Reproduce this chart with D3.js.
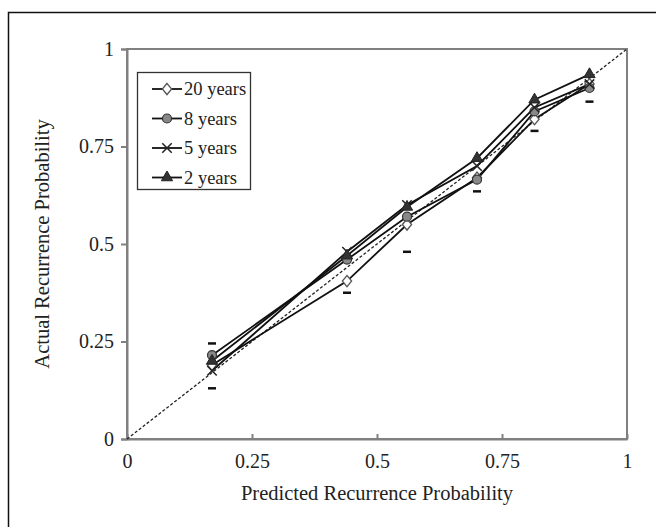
<!DOCTYPE html>
<html>
<head>
<meta charset="utf-8">
<script src="https://cdn.jsdelivr.net/npm/d3@7"></script>
<style>
  body { margin: 0; background: #fff; }
  text { font-family: "Liberation Serif", "Times New Roman", serif; fill: #222; }
</style>
</head>
<body>
<div id="chart"></div>
<script>
// calibration plot: predicted vs actual recurrence probability

// data
const predicted = [0.17, 0.44, 0.56, 0.70, 0.815, 0.925];
const seriesNames = ["20 years", "8 years", "5 years", "2 years"];
const yrs20 = [0.19, 0.405, 0.55, 0.67, 0.82, 0.91];
const yrs8 = [0.215, 0.46, 0.57, 0.665, 0.84, 0.90];
const yrs5 = [0.175, 0.48, 0.60, 0.70, 0.85, 0.91];
const yrs2 = [0.20, 0.47, 0.595, 0.72, 0.87, 0.935];
// small dash marks (confidence limits)
const dashX = [0.17, 0.17, 0.44, 0.56, 0.70, 0.815, 0.925, 0.925];
const dashY = [0.245, 0.13, 0.375, 0.48, 0.635, 0.79, 0.865, 0.90];
const ticks = [0, 0.25, 0.5, 0.75, 1];
const tickLabels = ["0", "0.25", "0.5", "0.75", "1"];

const width = 656, height = 527;
const margin = {top: 49, right: 30, bottom: 88, left: 127};

const svg = d3.select("#chart")
    .append("svg")
    .attr("width", width)
    .attr("height", height);

// outer border (cropped at right / bottom)
svg.append("rect")
    .attr("x", 8.5).attr("y", 12.5)
    .attr("width", 700).attr("height", 600)
    .attr("fill", "none")
    .attr("stroke", "#111")
    .attr("stroke-width", 1.5);

const x = d3.scaleLinear().domain([0, 1]).range([margin.left, width - margin.right + 1]);
const y = d3.scaleLinear().domain([0, 1]).range([height - margin.bottom, margin.top]);

// plot frame
svg.append("rect")
    .attr("x", x(0)).attr("y", y(1))
    .attr("width", x(1) - x(0)).attr("height", y(0) - y(1))
    .attr("fill", "none")
    .attr("stroke", "#808080")
    .attr("stroke-width", 2);

// axes
const xAxis = svg.append("g")
    .attr("transform", `translate(0,${y(0)})`)
    .call(d3.axisBottom(x).tickValues(ticks).tickFormat((d, i) => tickLabels[i]).tickSize(0).tickPadding(15));
xAxis.select(".domain").attr("stroke", "#808080").attr("stroke-width", 2);
xAxis.selectAll(".tick").append("line")
    .attr("y1", -5).attr("y2", 0)
    .attr("stroke", "#808080").attr("stroke-width", 2);
xAxis.selectAll("text").style("font-size", "20px").style("font-family", "Liberation Serif");

const yAxis = svg.append("g")
    .attr("transform", `translate(${x(0)},0)`)
    .call(d3.axisLeft(y).tickValues(ticks).tickFormat((d, i) => tickLabels[i]).tickSize(6).tickPadding(7));
yAxis.select(".domain").attr("stroke", "#808080").attr("stroke-width", 2);
yAxis.selectAll(".tick line").attr("stroke", "#808080").attr("stroke-width", 2);
yAxis.selectAll("text").style("font-size", "20px").style("font-family", "Liberation Serif");

// axis titles
svg.append("text")
    .attr("x", (x(0) + x(1)) / 2)
    .attr("y", 500)
    .attr("text-anchor", "middle")
    .style("font-size", "20.5px")
    .text("Predicted Recurrence Probability");

svg.append("text")
    .attr("transform", `translate(49,${(y(0) + y(1)) / 2}) rotate(-90)`)
    .attr("text-anchor", "middle")
    .style("font-size", "20.5px")
    .text("Actual Recurrence Probability");

// diagonal reference line
svg.append("line")
    .attr("x1", x(0)).attr("y1", y(0))
    .attr("x2", x(1)).attr("y2", y(1))
    .attr("stroke", "#222")
    .attr("stroke-width", 1.3)
    .attr("stroke-dasharray", "3,2");

// dash marks
svg.selectAll(".dash")
    .data(dashX)
    .join("line")
    .attr("x1", (d) => x(d) - 4)
    .attr("x2", (d) => x(d) + 4)
    .attr("y1", (d, i) => y(dashY[i]))
    .attr("y2", (d, i) => y(dashY[i]))
    .attr("stroke", "#111")
    .attr("stroke-width", 2.5);

const allSeries = [yrs20, yrs8, yrs5, yrs2];
const line = d3.line().x((d, i) => x(predicted[i])).y((d) => y(d));

// marker drawer
function marker(g, k, cx, cy) {
    if (k === 0) {
        g.append("path")
            .attr("d", d3.symbol(d3.symbolDiamond, 40)())
            .attr("transform", `translate(${cx},${cy}) scale(1.35,0.95)`)
            .attr("fill", "#fff").attr("stroke", "#555").attr("stroke-width", 1.1);
    } else if (k === 1) {
        g.append("circle")
            .attr("cx", cx).attr("cy", cy).attr("r", 4.5)
            .attr("fill", "#888").attr("stroke", "#333").attr("stroke-width", 1.2);
    } else if (k === 2) {
        g.append("path")
            .attr("d", d3.symbol(d3.symbolTimes, 60)())
            .attr("transform", `translate(${cx},${cy})`)
            .attr("fill", "none").attr("stroke", "#222").attr("stroke-width", 1.5);
    } else {
        g.append("path")
            .attr("d", d3.symbol(d3.symbolTriangle, 55)())
            .attr("transform", `translate(${cx},${cy})`)
            .attr("fill", "#333").attr("stroke", "#222").attr("stroke-width", 1);
    }
}

allSeries.forEach(function(vals) {
    svg.append("path")
        .datum(vals)
        .attr("d", line)
        .attr("fill", "none")
        .attr("stroke", "#111")
        .attr("stroke-width", 1.8);
});
allSeries.forEach(function(vals, k) {
    const g = svg.append("g");
    vals.forEach((v, i) => marker(g, k, x(predicted[i]), y(v)));
});

// legend
const legend = svg.append("g");
legend.append("rect")
    .attr("x", 137.5).attr("y", 72.5)
    .attr("width", 113).attr("height", 117)
    .attr("fill", "#fff")
    .attr("stroke", "#333")
    .attr("stroke-width", 1.3);

seriesNames.forEach(function(name, k) {
    const ly = 89 + k * 29.5;
    legend.append("line")
        .attr("x1", 152).attr("x2", 182)
        .attr("y1", ly).attr("y2", ly)
        .attr("stroke", "#111").attr("stroke-width", 1.8);
    marker(legend, k, 167, ly);
    legend.append("text")
        .attr("x", 184).attr("y", ly + 6)
        .style("font-size", "18.5px")
        .text(name);
});
</script>
</body>
</html>
